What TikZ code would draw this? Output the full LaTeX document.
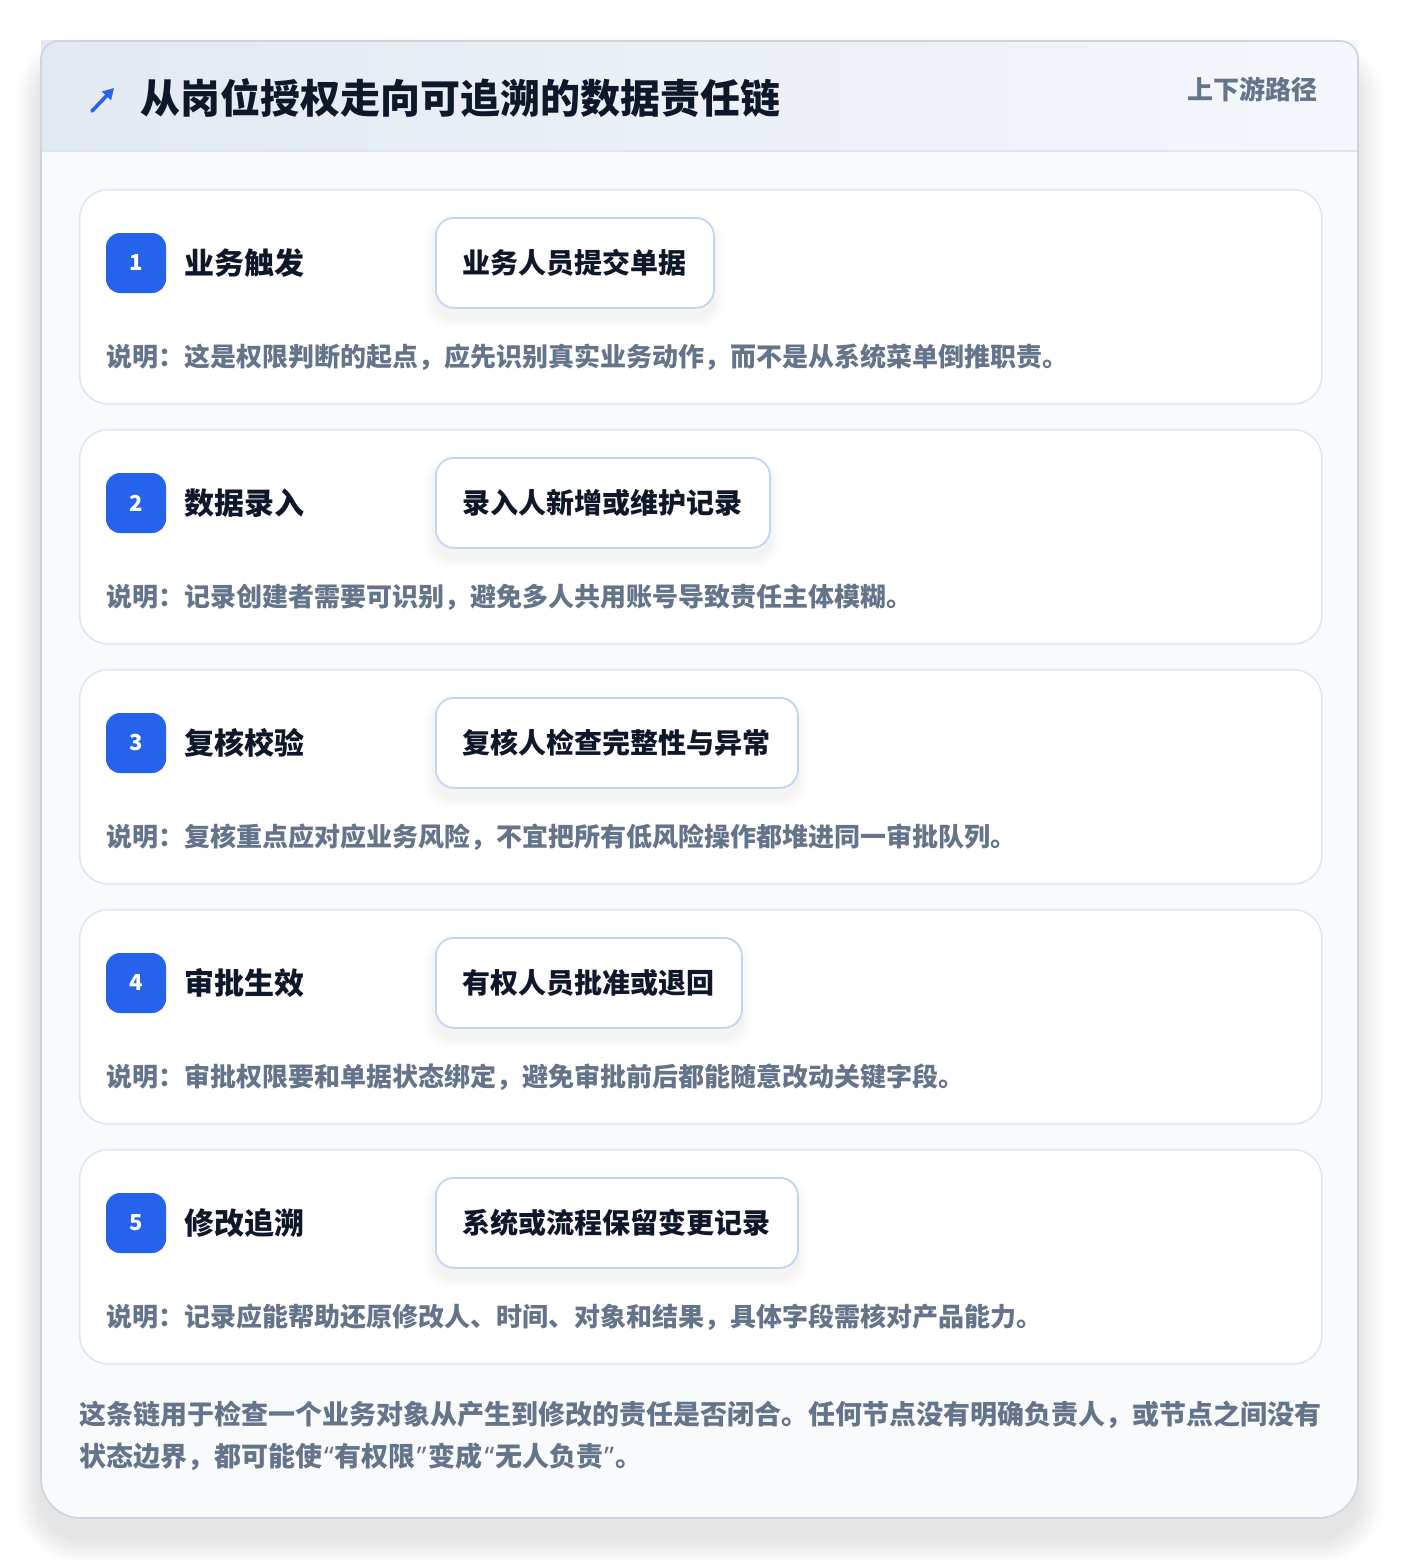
\documentclass[tikz,border=0pt]{standalone}
\usepackage{fontspec}
\setmainfont{Noto Sans CJK SC}
\newfontfamily\latinq{Noto Sans}
\usetikzlibrary{arrows.meta}
\definecolor{ink}{HTML}{0F172A}
\definecolor{muted}{HTML}{64748B}
\definecolor{brand}{HTML}{2563EB}
\definecolor{pillline}{HTML}{BFD6F2}
\definecolor{cardline}{HTML}{DCE8F6}
\definecolor{outerline}{HTML}{CBD5E1}
\definecolor{bodybg}{HTML}{F8FAFC}
\definecolor{hdrL}{HTML}{E3E9F2}
\definecolor{hdrR}{HTML}{F4F7FB}
\definecolor{hdrline}{HTML}{DAE6F5}
\newcommand{\myLq}{{\latinq\bfseries \kern2pt“\kern1pt}}
\newcommand{\myRq}{{\latinq\bfseries \kern1pt”\kern2pt}}
\tikzset{
  txt/.style={inner sep=0pt, anchor=west, font=\bfseries},
  stepcard/.style={fill=white, draw=cardline, line width=1.6pt, rounded corners=28pt},
  badge/.style={fill=brand, rounded corners=14pt, minimum width=60pt, minimum height=60pt, inner sep=0pt, text=white, font=\bfseries\fontsize{22}{24}\selectfont},
  steplabel/.style={txt, text=ink, font=\bfseries\fontsize{30}{34}\selectfont},
  pill/.style={fill=white, draw=pillline, line width=1.8pt, rounded corners=18pt, minimum height=90pt, inner xsep=27pt, inner ysep=0pt, anchor=north west, text=ink, font=\bfseries\fontsize{28}{32}\selectfont},
  desc/.style={txt, text=muted, font=\bfseries\fontsize{26}{30}\selectfont},
}
\begin{document}
\begin{tikzpicture}[x=1pt,y=-1pt]
\useasboundingbox (0,0) rectangle (1400,1560);
\fill[white] (0,0) rectangle (1400,1560);
% outer shadow
\foreach \i in {1,...,26}{
  \pgfmathsetmacro\rr{40+\i}
  \fill[black!80!blue,opacity=0.0042,rounded corners=\rr pt] (41-\i,41-\i+20) rectangle (1358+\i,1518+\i+20);
}
% outer card
\fill[bodybg, rounded corners=40pt] (41,41) rectangle (1358,1518);
\shade[left color=hdrL, right color=hdrR] (41,41) rectangle (1358,151);
\draw[hdrline, line width=1.5pt] (41,151) -- (1358,151);
\draw[outerline, line width=1.6pt, rounded corners=40pt] (41,60) -- (41,1518) -- (1358,1518) -- (1358,60);
\draw[outerline, line width=1.6pt, rounded corners=18pt] (41,80) -- (41,41) -- (1358,41) -- (1358,80);
% header
\coordinate (arrS) at (92,111);
\coordinate (arrE) at (114,88);
\draw[brand, line width=3.6pt, line cap=round, -{Triangle[length=11pt,width=12pt]}] (arrS) -- (arrE);
\node[txt, text=ink, font=\bfseries\fontsize{40}{46}\selectfont] (title) at (140,98) {从岗位授权走向可追溯的数据责任链};
\node[txt, anchor=east, text=muted, font=\bfseries\fontsize{26}{30}\selectfont] (tag) at (1318,89) {上下游路径};
% steps
\foreach \n/\top/\pw/\lab/\act/\note in {
 1/189/278/业务触发/业务人员提交单据/说明：这是权限判断的起点，应先识别真实业务动作，而不是从系统菜单倒推职责。,
 2/429/334/数据录入/录入人新增或维护记录/说明：记录创建者需要可识别，避免多人共用账号导致责任主体模糊。,
 3/669/362/复核校验/复核人检查完整性与异常/说明：复核重点应对应业务风险，不宜把所有低风险操作都堆进同一审批队列。,
 4/909/306/审批生效/有权人员批准或退回/说明：审批权限要和单据状态绑定，避免审批前后都能随意改动关键字段。,
 5/1149/362/修改追溯/系统或流程保留变更记录/说明：记录应能帮助还原修改人、时间、对象和结果，具体字段需核对产品能力。}{
  \node[stepcard, minimum width=1242pt, minimum height=214pt, anchor=north west, inner sep=0pt] (card\n) at (79,\top) {};
  % pill shadow
  \foreach \j in {1,...,12}{
    \pgfmathsetmacro\rj{18+\j}
    \fill[black!70!blue,opacity=0.0055,rounded corners=\rj pt] (435-\j,\top+28-\j+10) rectangle (435+\pw+\j,\top+118+\j+10);
  }
  \node[badge] (badge\n) at (136,\top+74) {\n};
  \node[steplabel] (label\n) at (184,\top+74) {\lab};
  \node[pill] (act\n) at (435,\top+28) {\act};
  \node[desc] (note\n) at (106,\top+168) {\note};
}
% footer
\node[txt, text=muted, font=\bfseries\fontsize{27}{32}\selectfont] (foot1) at (79,1415) {这条链用于检查一个业务对象从产生到修改的责任是否闭合。任何节点没有明确负责人，或节点之间没有};
\node[txt, text=muted, font=\bfseries\fontsize{27}{32}\selectfont] (foot2) at (79,1457) {状态边界，都可能使\myLq 有权限\myRq 变成\myLq 无人负责\myRq 。};
\end{tikzpicture}
\end{document}
